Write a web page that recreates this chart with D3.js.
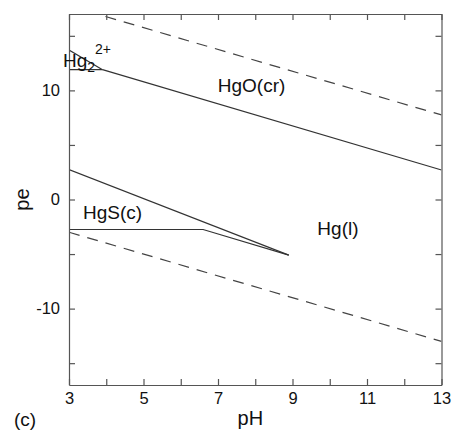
<!DOCTYPE html>
<meta charset="utf-8">
<style>
    body { margin: 0; background: #fff; }
    svg { font-family: "Liberation Sans", Arial, sans-serif; }
    .axis path, .axis line { stroke: #555; stroke-width: 1.2; }
    .axis text { fill: #111; font-size: 16.5px; }
    path.bound { fill: none; stroke: #333; stroke-width: 1.2; }
    path.water { fill: none; stroke: #444; stroke-width: 1.2; stroke-dasharray: 11,8; }
    text.lbl { fill: #111; font-size: 19px; }
</style>
<body>
<script src="https://cdnjs.cloudflare.com/ajax/libs/d3/7.8.5/d3.min.js"></script>
<script>
    // water stability limits (pe vs pH)
    var waterUpper = [[3, 17.75], [13, 7.75]];
    var waterLower = [[3, -3], [13, -13]];

    // phase boundaries
    var hg2Upper = [[3, 13.7], [3.9, 11.9]];
    var hg2Lower = [[3, 11.9], [3.9, 11.9]];
    var hgoHg = [[3.9, 11.9], [13, 2.7]];
    var hgsUpper = [[3, 2.75], [8.9, -5.1]];
    var hgsLower = [[3, -2.75], [6.6, -2.75], [8.9, -5.1]];

    var xTicks = d3.range(3, 14);
    var yTicks = [-15, -10, -5, 0, 5, 10, 15];
    var xLabels = [3, 5, 7, 9, 11, 13];
    var yLabels = [-10, 0, 10];

    var labels = [
        {t: "HgO(cr)", x: 7.9, y: 10.5},
        {t: "HgS(c)", x: 4.17, y: -1.15},
        {t: "Hg(l)", x: 10.22, y: -2.6}
    ];

    var margin = {top: 14, right: 15.5, bottom: 46, left: 69},
        W = 457, H = 431,
        width = W - margin.left - margin.right,
        height = H - margin.top - margin.bottom;

    var x = d3.scaleLinear().domain([3, 13]).range([0, width]);
    var y = d3.scaleLinear().domain([-17, 17]).range([height, 0]);

    var svg = d3.select("body").append("svg")
        .attr("width", W).attr("height", H)
        .append("g")
        .attr("transform", "translate(" + margin.left + "," + margin.top + ")");

    svg.append("clipPath").attr("id", "clip")
        .append("rect").attr("width", width).attr("height", height);

    var line = d3.line().x(function(d) { return x(d[0]); }).y(function(d) { return y(d[1]); });

    var plot = svg.append("g").attr("clip-path", "url(#clip)");
    [waterUpper, waterLower].forEach(function(d) {
        plot.append("path").attr("class", "water").attr("d", line(d));
    });
    [hg2Upper, hg2Lower, hgoHg, hgsUpper, hgsLower].forEach(function(d) {
        plot.append("path").attr("class", "bound").attr("d", line(d));
    });

    var fmtX = function(d) { return xLabels.indexOf(d) >= 0 ? d : ""; };
    var fmtY = function(d) { return yLabels.indexOf(d) >= 0 ? d : ""; };

    svg.append("g").attr("class", "axis")
        .attr("transform", "translate(0," + height + ")")
        .call(d3.axisBottom(x).tickValues(xTicks).tickSizeInner(-6).tickSizeOuter(0).tickPadding(7).tickFormat(fmtX));
    svg.append("g").attr("class", "axis")
        .call(d3.axisTop(x).tickValues(xTicks).tickSizeInner(-6).tickSizeOuter(0).tickFormat(""));
    svg.append("g").attr("class", "axis")
        .call(d3.axisLeft(y).tickValues(yTicks).tickSizeInner(-6).tickSizeOuter(0).tickPadding(9).tickFormat(fmtY));
    svg.append("g").attr("class", "axis")
        .attr("transform", "translate(" + width + ",0)")
        .call(d3.axisRight(y).tickValues(yTicks).tickSizeInner(-6).tickSizeOuter(0).tickFormat(""));

    svg.selectAll("text.region").data(labels).enter().append("text")
        .attr("class", "lbl")
        .attr("x", function(d) { return x(d.x); })
        .attr("y", function(d) { return y(d.y); })
        .attr("dy", "0.35em")
        .attr("text-anchor", "middle")
        .text(function(d) { return d.t; });

    // Hg2 2+ label
    var hg = svg.append("text").attr("class", "lbl")
        .attr("x", x(3) - 6).attr("y", y(12.1)).style("font-size", "19px");
    hg.append("tspan").text("Hg");
    hg.append("tspan").attr("dy", 5).style("font-size", "14px").text("2");
    svg.append("text").attr("class", "lbl")
        .attr("x", x(3.7)).attr("y", y(13.3)).style("font-size", "14px").text("2+");

    // axis titles
    svg.append("text").attr("class", "lbl").style("font-size", "20px")
        .attr("text-anchor", "middle")
        .attr("x", x(7.87)).attr("y", height + 40)
        .text("pH");
    svg.append("text").attr("class", "lbl").style("font-size", "20px")
        .attr("text-anchor", "middle")
        .attr("transform", "translate(" + (-40) + "," + y(0) + ") rotate(-90)")
        .text("pe");
    svg.append("text").attr("class", "lbl").style("font-size", "19px")
        .attr("x", -55).attr("y", height + 41)
        .text("(c)");
</script>
